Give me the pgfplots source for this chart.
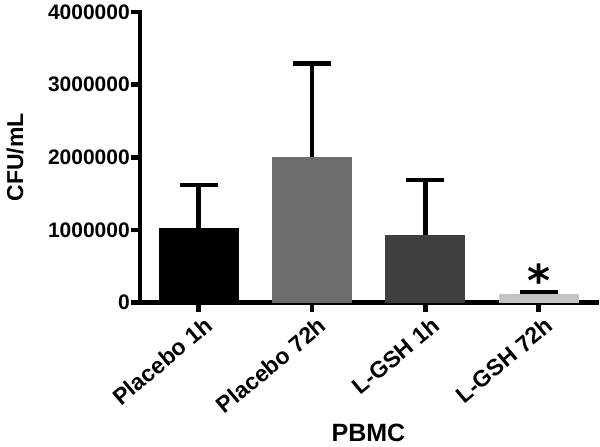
\documentclass[border=0pt]{standalone}
\usepackage{fontspec}
\setmainfont{Liberation Sans}
\newfontfamily\dejavu{DejaVu Sans}
\usepackage{pgfplots}
\pgfplotsset{compat=1.18}
\definecolor{barA}{HTML}{000000}
\definecolor{barB}{HTML}{6D6D6D}
\definecolor{barC}{HTML}{3F3F3F}
\definecolor{barD}{HTML}{C4C4C4}
\begin{document}
\begin{tikzpicture}
\useasboundingbox (-140pt,-144.5pt) rectangle (460pt,302.5pt);
\begin{axis}[
  scale only axis, width=457pt, height=290.5pt,
  at={(0,0)}, anchor=south west,
  xmin=-0.516, xmax=3.514, ymin=0, ymax=4000000,
  axis x line*=bottom, axis y line*=left,
  axis line style={line width=4.5pt, line cap=rect},
  ybar, bar width=80pt,
  ytick={0,1000000,2000000,3000000,4000000},
  yticklabels={0,1000000,2000000,3000000,4000000},
  scaled y ticks=false,
  xtick={0,1,2,3},
  xticklabels={Placebo 1h, Placebo 72h, L-GSH 1h, L-GSH 72h},
  tick align=outside, major tick length=9pt,
  tick style={line width=4.5pt, black},
  ticklabel style={font=\fontsize{21}{21}\selectfont\bfseries},
  x tick label style={xshift=5pt, yshift=-4pt, rotate=40, anchor=north east, inner sep=0pt, font=\fontsize{23}{23}\selectfont\bfseries},
  y tick label style={inner sep=0pt, xshift=-1pt},
  xlabel={PBMC}, ylabel={CFU/mL},
  xlabel style={at={(axis description cs:0.5,-0.449)}, anchor=center, font=\fontsize{25}{25}\selectfont\bfseries},
  ylabel style={at={(axis description cs:-0.2735,0.5)}, anchor=center, font=\fontsize{23}{23}\selectfont\bfseries},
  error bars/y dir=plus, error bars/y explicit,
  error bars/error bar style={line width=4.5pt, black},
  error bars/error mark options={rotate=90, line width=4.5pt, black, mark size=19pt},
  clip=false,
]
\addplot[fill=barA, draw=none, bar shift=0pt] coordinates {(0,1020000) +- (0,600000)};
\addplot[fill=barB, draw=none, bar shift=0pt] coordinates {(1,2010000) +- (0,1280000)};
\addplot[fill=barC, draw=none, bar shift=0pt] coordinates {(2,930000) +- (0,760000)};
\addplot[fill=barD, draw=none, bar shift=0pt] coordinates {(3,113000) +- (0,32000)};
\node[anchor=north, inner sep=0pt, font=\fontsize{44}{44}\selectfont\bfseries\dejavu] at (axis cs:3,540000) {*};
\end{axis}
\end{tikzpicture}
\end{document}
